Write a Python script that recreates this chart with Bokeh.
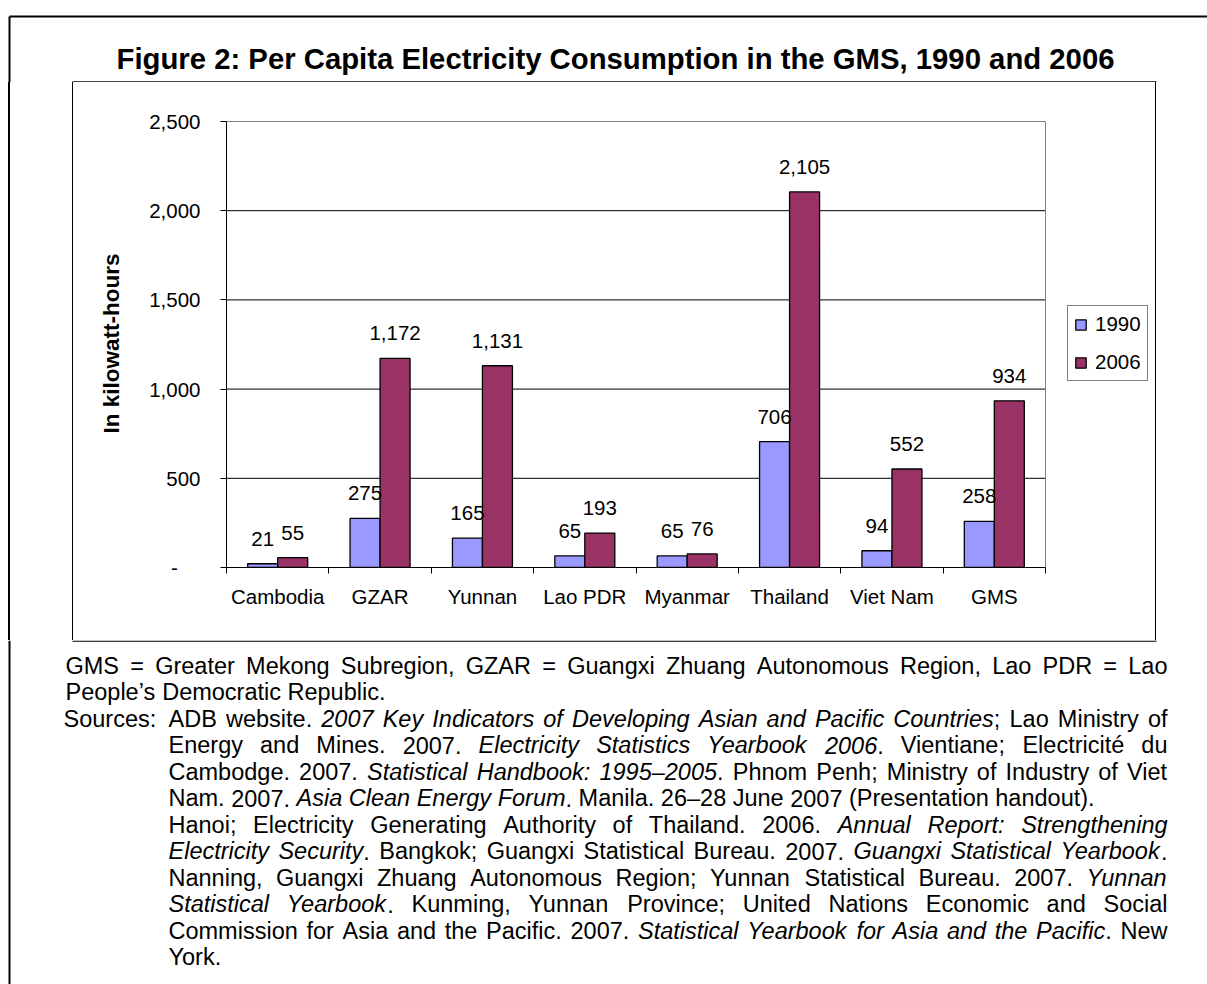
from bokeh.plotting import figure
from bokeh.layouts import column, row
from bokeh.models import (Range1d, FixedTicker, NumeralTickFormatter, Legend, LegendItem,
                          ColumnDataSource, Div)
from bokeh.transform import dodge
from bokeh.core.properties import value
from bokeh.embed import file_html
from bokeh.resources import INLINE

# ---- data -------------------------------------------------------------
categories = ["Cambodia", "GZAR", "Yunnan", "Lao PDR", "Myanmar", "Thailand", "Viet Nam", "GMS"]
kwh_1990 = [21, 275, 165, 65, 65, 706, 94, 258]
kwh_2006 = [55, 1172, 1131, 193, 76, 2105, 552, 934]
series_names = ["1990", "2006"]
y_ticks = [0, 500, 1000, 1500, 2000, 2500]

title_text = "Figure 2: Per Capita Electricity Consumption in the GMS, 1990 and 2006"
y_label = "In kilowatt-hours"

# footnote lines: (start x, justified?, text) -- text between underscores is italic
note_lines = [
    (65, True, "GMS = Greater Mekong Subregion, GZAR = Guangxi Zhuang Autonomous Region, Lao PDR = Lao"),
    (65, False, "People\u2019s Democratic Republic."),
    (168, True, "ADB website. _2007 Key Indicators of Developing Asian and Pacific Countries_; Lao Ministry of"),
    (168, True, "Energy and Mines. 2007. _Electricity Statistics Yearbook 2006_. Vientiane; Electricit\u00e9 du"),
    (168, True, "Cambodge. 2007. _Statistical Handbook: 1995\u20132005_. Phnom Penh; Ministry of Industry of Viet"),
    (168, False, "Nam. 2007. _Asia Clean Energy Forum_. Manila. 26\u201328 June 2007 (Presentation handout)."),
    (168, True, "Hanoi; Electricity Generating Authority of Thailand. 2006. _Annual Report: Strengthening_"),
    (168, True, "_Electricity Security_. Bangkok; Guangxi Statistical Bureau. 2007. _Guangxi Statistical Yearbook_."),
    (168, True, "Nanning, Guangxi Zhuang Autonomous Region; Yunnan Statistical Bureau. 2007. _Yunnan_"),
    (168, True, "_Statistical Yearbook_. Kunming, Yunnan Province; United Nations Economic and Social"),
    (168, True, "Commission for Asia and the Pacific. 2007. _Statistical Yearbook for Asia and the Pacific_. New"),
    (168, False, "York."),
]
sources_tag = "Sources:"

FONT = "Liberation Sans"
C1990 = "#9999FF"
C2006 = "#993366"

# ---- page geometry ------------------------------------------------------
W, H = 1207, 984
BOX_L, BOX_R, BOX_T, BOX_B = 73, 1155, 82, 640      # chart panel
OUTER_X, OUTER_Y = 9, 16                            # page frame
PLOT_L, PLOT_R, PLOT_T, PLOT_B = 226, 1045, 121, 567  # bar area inside the panel


def canvas_fig(w, h):
    """A figure whose data units are its own pixels (y pointing down)."""
    f = figure(width=w, height=h, x_range=Range1d(0, w), y_range=Range1d(h, 0),
               x_axis_location=None, y_axis_location=None,
               output_backend="svg", toolbar_location=None, min_border=0,
               outline_line_color=None, background_fill_color="white",
               border_fill_color="white")
    f.grid.visible = False
    return f


# ---- chart --------------------------------------------------------------
n_cat = len(categories)
slot_center = [i + 0.5 for i in range(n_cat)]
slot_edges = list(range(n_cat + 1))
y_max = y_ticks[-1]

CW, CH = BOX_R - BOX_L, BOX_B - BOX_T
# the drawing frame runs on to the panel's right edge so the legend can sit in it;
# the bar area proper ends at slot n_cat
px_per_slot = (PLOT_R - PLOT_L) / n_cat
px_per_unit = (PLOT_B - PLOT_T) / y_max
x_end = (BOX_R - PLOT_L) / px_per_slot
y_end = y_max + 2 / px_per_unit

p = figure(width=CW, height=CH, x_range=Range1d(0, x_end), y_range=Range1d(0, y_end),
           output_backend="svg", toolbar_location=None,
           min_border_left=PLOT_L - BOX_L, min_border_right=0,
           min_border_top=PLOT_T - BOX_T - 2, min_border_bottom=BOX_B - PLOT_B,
           background_fill_color="white", border_fill_color="white",
           outline_line_color=None)
p.grid.visible = False

# horizontal gridlines and the grey plot-area edge
p.segment(x0=0, x1=n_cat, y0=y_ticks[1:-1], y1=y_ticks[1:-1], line_color="black", line_width=1)
p.segment(x0=[0, n_cat], x1=[n_cat, n_cat], y0=[y_max, 0], y1=[y_max, y_max],
          line_color="#808080", line_width=1)

yax = p.yaxis[0]
yax.ticker = FixedTicker(ticks=y_ticks)
yax.bounds = (0, y_max)
yax.formatter = NumeralTickFormatter(format="0,0")
yax.major_label_overrides = {0: "-\u00a0\u00a0\u00a0\u00a0"}
yax.major_tick_out = 6
yax.major_tick_in = 0
yax.minor_tick_line_color = None
yax.axis_line_color = "black"
yax.major_tick_line_color = "black"
yax.major_label_standoff = 20
yax.major_label_text_font = FONT
yax.major_label_text_font_size = "20.5px"
yax.major_label_text_color = "black"
yax.axis_label = y_label
yax.axis_label_text_font = FONT
yax.axis_label_text_font_style = "bold"
yax.axis_label_text_font_size = "22.5px"
yax.axis_label_text_color = "black"
yax.axis_label_standoff = 22

# x axis: names at slot centres, short tick marks at slot edges
xax = p.xaxis[0]
xax.bounds = (0, n_cat)
xax.ticker = FixedTicker(ticks=slot_center, minor_ticks=slot_edges)
xax.major_label_overrides = {c: name for c, name in zip(slot_center, categories)}
xax.major_tick_line_color = None
xax.major_tick_out = 0
xax.major_tick_in = 0
xax.minor_tick_line_color = "black"
xax.minor_tick_out = 6
xax.minor_tick_in = 0
xax.axis_line_color = "black"
xax.major_label_standoff = 11
xax.major_label_text_font = FONT
xax.major_label_text_font_size = "20.5px"
xax.major_label_text_color = "black"

src = ColumnDataSource(dict(
    pos=slot_center, v1990=kwh_1990, v2006=kwh_2006,
    t1990=[f"{v:,}" for v in kwh_1990], t2006=[f"{v:,}" for v in kwh_2006],
))
bw = 0.293
r1 = p.vbar(x=dodge("pos", -bw / 2), top="v1990", width=bw, source=src,
            fill_color=C1990, line_color="black", line_width=1.3)
r2 = p.vbar(x=dodge("pos", bw / 2), top="v2006", width=bw, source=src,
            fill_color=C2006, line_color="black", line_width=1.3)
for off, col in ((-bw / 2, "1990"), (bw / 2, "2006")):
    p.text(x=dodge("pos", off), y="v" + col, text="t" + col, source=src,
           text_align="center", text_baseline="middle", y_offset=-25,
           text_font=value(FONT), text_font_size="20.5px", text_color="black")

legend = Legend(items=[LegendItem(label=series_names[0], renderers=[r1]),
                       LegendItem(label=series_names[1], renderers=[r2])],
                location=(1067 - PLOT_L, PLOT_B - 381), orientation="vertical",
                border_line_color="black", border_line_width=1, background_fill_color="white",
                background_fill_alpha=1, padding=6, margin=0, spacing=14,
                glyph_width=13, glyph_height=13, label_standoff=8, label_height=24,
                label_text_font=FONT, label_text_font_size="20.5px", label_text_color="black")
p.add_layout(legend)

# ---- title strip ----------------------------------------------------------
top = canvas_fig(W, BOX_T)
top.segment(x0=[OUTER_X, OUTER_X], y0=[OUTER_Y, OUTER_Y], x1=[W, OUTER_X], y1=[OUTER_Y, BOX_T],
            line_color="black", line_width=2)
top.segment(x0=[BOX_L - 1], y0=[BOX_T - 0.6], x1=[BOX_R + 1], y1=[BOX_T - 0.6],
            line_color="black", line_width=1.3)
top.text(x=[615], y=[58], text=[title_text], text_align="center", text_baseline="alphabetic",
         text_font=value(FONT), text_font_size="29.3px", text_font_style="bold", text_color="black")

# ---- side strips next to the chart (page frame + chart panel edges) -----
left = Div(width=BOX_L, height=CH, margin=0,
           text=(f'<div style="display:flex;height:{CH}px;margin:0;padding:0">'
                 f'<div style="width:{OUTER_X - 1}px"></div>'
                 f'<div style="width:2px;background:#000"></div>'
                 f'<div style="width:{BOX_L - OUTER_X - 2}px"></div>'
                 f'<div style="width:1px;background:#000"></div></div>'))
right = Div(width=W - BOX_R, height=CH, margin=0,
            text=f'<div style="width:1px;height:{CH}px;background:#000;margin:0"></div>')

# ---- footnote (justified by hand with Arial-compatible advance widths) --
ADV = {' ': 278, '(': 333, ')': 333, ',': 278, '-': 333, '.': 278, ':': 278, ';': 278,
       '=': 584, '\u2019': 222, '\u2013': 556, '\u00e9': 556,
       'A': 667, 'B': 667, 'C': 722, 'D': 722, 'E': 667, 'F': 611, 'G': 778, 'H': 722,
       'I': 278, 'J': 500, 'K': 667, 'L': 556, 'M': 833, 'N': 722, 'O': 778, 'P': 667,
       'Q': 778, 'R': 722, 'S': 667, 'T': 611, 'U': 722, 'V': 667, 'W': 944, 'X': 667,
       'Y': 667, 'Z': 611,
       'a': 556, 'b': 556, 'c': 500, 'd': 556, 'e': 556, 'f': 278, 'g': 556, 'h': 556,
       'i': 222, 'j': 222, 'k': 500, 'l': 222, 'm': 833, 'n': 556, 'o': 556, 'p': 556,
       'q': 556, 'r': 333, 's': 500, 't': 278, 'u': 556, 'v': 500, 'w': 722, 'x': 500,
       'y': 500, 'z': 500}
for d in "0123456789":
    ADV[d] = 556

NOTE_SIZE = 23.5
RIGHT = 1167
LINE0 = 665 - BOX_B
LEAD = 26.5


def adv(s):
    return sum(ADV.get(ch, 556) for ch in s) * NOTE_SIZE / 1000.0


def words_of(text):
    # split into words; each word is a list of (run text, italic)
    words, italic = [], False
    for raw in text.split(" "):
        runs, buf = [], ""
        for ch in raw:
            if ch == "_":
                if buf:
                    runs.append((buf, italic))
                buf = ""
                italic = not italic
            else:
                buf += ch
        if buf:
            runs.append((buf, italic))
        words.append(runs)
    return words


runs_plain = dict(x=[], y=[], text=[])
runs_italic = dict(x=[], y=[], text=[])


def put(x, y, s, italic):
    d = runs_italic if italic else runs_plain
    d["x"].append(x)
    d["y"].append(y)
    d["text"].append(s)


for i, (x0, justify, text) in enumerate(note_lines):
    y = LINE0 + i * LEAD
    if i == 2:
        put(63, y, sources_tag, False)
    words = words_of(text)
    widths = [sum(adv(r[0]) for r in w) for w in words]
    if justify and len(words) > 1:
        gap = (RIGHT - x0 - sum(widths)) / (len(words) - 1)
    else:
        gap = adv(" ")
    x = x0
    for w, ww in zip(words, widths):
        xr = x
        for s, it in w:
            put(xr, y, s, it)
            xr += adv(s)
        x += ww + gap

bottom = canvas_fig(W, H - BOX_B)
bottom.segment(x0=[OUTER_X], y0=[0], x1=[OUTER_X], y1=[H - BOX_B], line_color="black", line_width=2)
bottom.segment(x0=[BOX_L - 1], y0=[0.6], x1=[BOX_R + 1], y1=[0.6], line_color="black", line_width=1.3)
for runs, style in ((runs_plain, "normal"), (runs_italic, "italic")):
    bottom.text(x="x", y="y", text="text", source=ColumnDataSource(runs),
                text_align="left", text_baseline="alphabetic", text_font=value(FONT),
                text_font_size=f"{NOTE_SIZE}px", text_font_style=style, text_color="black")

page = column(top, row(left, p, right, spacing=0), bottom, spacing=0)
open("out.html", "w").write(file_html(page, INLINE))
